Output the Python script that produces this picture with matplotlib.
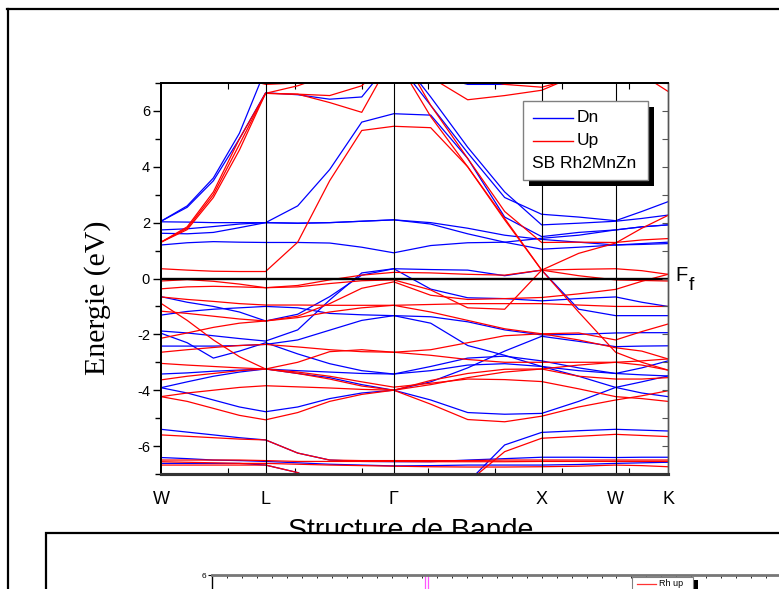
import matplotlib
matplotlib.use("Agg")
import matplotlib.pyplot as plt
from matplotlib.patches import Rectangle
from matplotlib.lines import Line2D
from matplotlib.ticker import MultipleLocator

plt.rcParams['font.family'] = ['Liberation Sans', 'DejaVu Sans']
plt.rcParams['axes.unicode_minus'] = False

# ---------------- data ----------------
k_path = [0.0, 0.177, 0.354, 0.530, 0.707, 0.924, 1.140, 1.357, 1.573,
          1.823, 2.073, 2.323, 2.573, 2.823, 3.073, 3.250, 3.427]
hs_points = [0.0, 0.707, 1.573, 2.573, 3.073, 3.427]
hs_labels = ['W', 'L', 'Γ', 'X', 'W', 'K']

# spin down (blue)
dn_0 = [8.5, 8.3, 8.0, 7.4, 7.0, 7.2, 7.6, 8.2, 8.8, 7.3, 6.95, 6.95, 7.1, 7.4, 7.8, 8.0, 8.2]
dn_1 = [2.05, 2.55, 3.5, 5.0, 6.65, 6.58, 6.42, 6.5, 7.9, 6.2, 4.5, 2.9, 2.3, 2.2, 2.07, 2.4, 2.75]
dn_2 = [2.05, 2.6, 3.6, 5.2, 7.5, 7.8, 8.0, 8.0, 8.2, 6.5, 4.7, 3.1, 1.92, 1.98, 2.05, 2.15, 2.27]
dn_3 = [2.03, 2.02, 2.0, 2.0, 2.0, 2.6, 3.9, 5.6, 5.9, 5.85, 4.3, 2.2, 1.5, 1.65, 1.74, 1.85, 1.92]
dn_4 = [1.74, 1.78, 1.86, 1.95, 2.0, 1.98, 2.0, 2.05, 2.1, 2.0, 1.8, 1.55, 1.4, 1.3, 1.2, 1.22, 1.25]
dn_5 = [1.62, 1.6, 1.65, 1.82, 2.0, 1.98, 2.0, 2.05, 2.1, 1.95, 1.6, 1.3, 1.05, 1.12, 1.2, 1.25, 1.3]
dn_6 = [1.2, 1.28, 1.32, 1.3, 1.29, 1.29, 1.27, 1.12, 0.92, 1.18, 1.28, 1.3, 1.44, 1.55, 1.74, 1.85, 1.92]
dn_7 = [-0.65, -0.85, -1.0, -1.2, -1.52, -1.28, -0.65, 0.12, 0.35, 0.32, 0.3, 0.1, 0.3, -1.1, -1.33, -1.33, -1.33]
dn_8 = [-1.88, -1.95, -2.05, -2.15, -2.24, -1.84, -0.77, 0.2, 0.35, -0.38, -0.69, -0.72, -0.8, -0.72, -0.66, -0.85, -1.0]
dn_9 = [-1.31, -1.18, -1.1, -1.05, -1.0, -1.05, -1.25, -1.3, -1.33, -1.37, -1.55, -1.84, -2.02, -2.0, -1.95, -1.94, -1.94]
dn_10 = [-1.96, -2.3, -2.85, -2.6, -2.3, -2.7, -3.05, -3.3, -3.42, -3.15, -2.85, -2.78, -2.95, -3.2, -3.4, -3.2, -2.95]
dn_11 = [-2.42, -2.42, -2.42, -2.4, -2.36, -2.2, -1.85, -1.5, -1.33, -1.6, -2.4, -2.75, -3.15, -3.5, -3.9, -4.1, -4.23]
dn_12 = [-3.42, -3.38, -3.32, -3.28, -3.24, -3.4, -3.55, -3.8, -4.0, -3.7, -3.2, -2.6, -2.07, -2.25, -2.44, -2.42, -2.41]
dn_13 = [-3.91, -4.1, -4.35, -4.6, -4.77, -4.6, -4.3, -4.1, -4.0, -4.35, -4.8, -4.86, -4.83, -4.4, -3.9, -3.7, -3.49]
dn_14 = [-3.91, -3.7, -3.5, -3.35, -3.24, -3.3, -3.35, -3.4, -3.42, -3.3, -3.1, -3.05, -3.15, -3.3, -3.4, -3.45, -3.49]
dn_15 = [-5.4, -5.5, -5.6, -5.7, -5.78, -6.25, -6.5, -6.55, -6.56, -6.56, -6.5, -6.45, -6.4, -6.4, -6.41, -6.4, -6.4]
dn_16 = [-6.62, -6.62, -6.62, -6.62, -6.68, -6.95, -7.5, -7.8, -7.9, -7.8, -7.3, -5.96, -5.51, -5.45, -5.4, -5.43, -5.46]
dn_17 = [-6.41, -6.45, -6.5, -6.52, -6.55, -6.6, -6.65, -6.68, -6.71, -6.7, -6.68, -6.68, -6.68, -6.66, -6.62, -6.6, -6.58]

# spin up (red)
up_0 = [8.5, 8.2, 7.8, 7.2, 6.95, 7.0, 7.3, 7.8, 8.5, 8.0, 7.2, 6.95, 6.85, 7.2, 7.6, 7.6, 7.6]
up_1 = [1.3, 1.75, 2.9, 4.6, 6.63, 6.6, 6.3, 5.95, 8.0, 5.8, 4.0, 2.15, 0.3, -1.2, -2.64, -3.0, -3.28]
up_2 = [1.3, 1.8, 3.0, 4.8, 6.63, 6.9, 7.3, 7.8, 8.5, 6.2, 4.3, 2.4, 1.29, 1.3, 1.29, 1.38, 1.43]
up_3 = [0.35, 0.3, 0.26, 0.25, 0.25, 1.3, 3.5, 5.3, 5.45, 5.4, 4.0, 2.1, 0.3, 0.9, 1.27, 1.8, 2.26]
up_4 = [1.3, 1.85, 3.1, 5.0, 6.63, 6.6, 6.55, 6.9, 8.0, 7.2, 6.4, 6.55, 6.74, 7.3, 7.6, 7.3, 6.7]
up_5 = [-0.09, -0.04, -0.1, -0.2, -0.33, -0.25, -0.05, 0.12, 0.22, 0.2, 0.15, 0.12, 0.3, 0.1, -0.05, -0.07, -0.09]
up_6 = [-0.37, -0.3, -0.28, -0.3, -0.33, -0.3, -0.18, -0.08, -0.05, -0.41, -1.05, -1.1, 0.3, 0.33, 0.35, 0.28, 0.15]
up_7 = [-0.66, -0.75, -0.82, -0.9, -0.95, -0.95, -0.96, -0.96, -0.96, -0.93, -0.9, -0.9, -0.9, -0.95, -1.0, -1.0, -1.0]
up_8 = [-0.89, -1.5, -2.2, -2.8, -3.24, -3.0, -2.62, -2.55, -2.64, -2.55, -2.3, -2.05, -1.98, -1.95, -2.2, -1.9, -1.63]
up_9 = [-1.17, -1.25, -1.35, -1.45, -1.52, -1.35, -0.9, -0.35, -0.12, -0.6, -0.75, -0.72, -0.68, -0.55, -0.39, -0.1, 0.15]
up_10 = [-2.14, -1.95, -1.75, -1.6, -1.52, -1.4, -1.2, -1.05, -0.96, -1.2, -1.5, -1.8, -1.98, -2.2, -2.48, -2.6, -2.88]
up_11 = [-2.64, -2.55, -2.47, -2.4, -2.36, -2.45, -2.55, -2.62, -2.64, -2.75, -2.9, -3.0, -3.0, -3.0, -3.0, -3.1, -3.28]
up_12 = [-3.04, -3.1, -3.15, -3.2, -3.24, -3.35, -3.5, -3.7, -3.89, -3.75, -3.6, -3.62, -3.69, -3.95, -4.23, -4.3, -4.4]
up_13 = [-3.63, -3.5, -3.4, -3.3, -3.24, -3.4, -3.6, -3.85, -4.0, -3.65, -3.4, -3.25, -3.24, -3.1, -3.0, -2.95, -2.88]
up_14 = [-4.23, -4.1, -4.0, -3.9, -3.84, -3.88, -3.92, -3.97, -4.0, -3.8, -3.55, -3.35, -3.24, -3.5, -3.6, -3.6, -3.55]
up_15 = [-4.23, -4.4, -4.65, -4.9, -5.06, -4.8, -4.4, -4.15, -4.0, -4.5, -5.05, -5.13, -4.93, -4.6, -4.35, -4.2, -4.02]
up_16 = [-5.6, -5.65, -5.7, -5.75, -5.78, -6.25, -6.5, -6.52, -6.52, -6.52, -6.52, -6.5, -6.5, -6.5, -6.5, -6.5, -6.5]
up_17 = [-6.5, -6.5, -6.5, -6.5, -6.52, -6.55, -6.55, -6.55, -6.55, -6.56, -6.56, -6.56, -6.55, -6.55, -6.55, -6.55, -6.55]
up_18 = [-6.68, -6.68, -6.68, -6.68, -6.68, -6.95, -7.5, -7.8, -7.9, -7.8, -7.3, -6.2, -5.72, -5.65, -5.58, -5.62, -5.66]
up_19 = [-6.56, -6.58, -6.6, -6.62, -6.62, -6.65, -6.68, -6.7, -6.72, -6.74, -6.75, -6.75, -6.74, -6.72, -6.68, -6.7, -6.74]

dn_bands = [dn_0, dn_1, dn_2, dn_3, dn_4, dn_5, dn_6, dn_7, dn_8, dn_9, dn_10,
            dn_11, dn_12, dn_13, dn_14, dn_15, dn_16, dn_17]
up_bands = [up_0, up_1, up_2, up_3, up_4, up_5, up_6, up_7, up_8, up_9, up_10,
            up_11, up_12, up_13, up_14, up_15, up_16, up_17, up_18, up_19]

legend_labels = ['Dn', 'Up']
legend_title = 'SB Rh2MnZn'
rh_up_lines = [14.2, 14.42]

# ---------------- figure ----------------
W, H = 779, 589
fig = plt.figure(figsize=(W / 100, H / 100), dpi=100)


def fx(x):
    return x / W


def fy(y):
    return 1 - y / H


ax = fig.add_axes([fx(161), fy(474), 507 / W, 391 / H])
for b in dn_bands:
    ax.plot(k_path, b, color='#0000ff', lw=0.9, solid_joinstyle='round')
for b in up_bands:
    ax.plot(k_path, b, color='#ff0000', lw=0.9, solid_joinstyle='round')

ax.set_xlim(hs_points[0], hs_points[-1])
ax.set_ylim(-7, 7)
for x in hs_points[1:-1]:
    ax.axvline(x, color='black', lw=0.8, zorder=3)
ax.axhline(0, color='black', lw=1.7, zorder=3)

ax.set_xticks(hs_points)
ax.set_xticklabels(hs_labels)
ax.tick_params(axis='x', which='major', length=0, pad=12, labelsize=13)
ax.xaxis.set_minor_locator(MultipleLocator(0.452))
ax.tick_params(axis='x', which='minor', direction='in', length=4, width=0.8,
               top=True, bottom=True)
ax.set_yticks(range(-6, 7, 2))
ax.yaxis.set_minor_locator(MultipleLocator(1))
ax.tick_params(axis='y', which='major', direction='out', length=6, width=1,
               pad=2, labelsize=10.5)
ax.tick_params(axis='y', which='minor', direction='out', length=4, width=1)

axr = ax.twinx()
axr.set_ylim(-7, 7)
axr.set_yticks(range(-6, 7, 2))
axr.yaxis.set_minor_locator(MultipleLocator(1))
axr.tick_params(axis='y', which='both', direction='in', labelright=False,
                length=4, width=0.8, color='#555555')

for a in (ax, axr):
    a.spines['bottom'].set_linewidth(2.2)
    a.spines['bottom'].set_color('#333333')
    a.spines['top'].set_linewidth(1.4)
    a.spines['left'].set_linewidth(1.4)
    a.spines['right'].set_linewidth(1.0)
    a.spines['right'].set_color('#555555')

# axis texts
fig.text(fx(98), fy(298), 'Energie (eV)', rotation=90, family='Liberation Serif',
         fontsize=21.5, ha='center', va='center')
fig.text(fx(675), fy(281), 'F', fontsize=14.5, va='baseline', ha='left')
fig.text(fx(688.5), fy(290), 'f', fontsize=14, va='baseline', ha='left')
fig.text(fx(410.5), fy(537.5), 'Structure de Bande', fontsize=20.5,
         ha='center', va='baseline', zorder=3)

# legend
fig.add_artist(Rectangle((fx(529), fy(186)), (654 - 529) / W, (186 - 107) / H,
                         transform=fig.transFigure, facecolor='black',
                         edgecolor='none', zorder=6))
fig.add_artist(Rectangle((fx(523), fy(180)), (648 - 523) / W, (180 - 101) / H,
                         transform=fig.transFigure, facecolor='white',
                         edgecolor='#808080', lw=1.0, zorder=7))
for lab, col, yy in zip(legend_labels, ['#0000ff', '#ff0000'], [118, 140.5]):
    fig.add_artist(Line2D([fx(533), fx(573)], [fy(yy), fy(yy)], color=col,
                          lw=1.0, transform=fig.transFigure, zorder=8))
    fig.text(fx(577), fy(yy), lab, fontsize=12.5, va='center', ha='left',
             zorder=9)
fig.text(fx(532), fy(163), legend_title, fontsize=12.5, va='center',
         ha='left', zorder=9)

# outer frame
fig.add_artist(Line2D([fx(7), 1.0], [fy(8.5), fy(8.5)], color='black', lw=1.6,
                      transform=fig.transFigure, zorder=2))
fig.add_artist(Line2D([fx(7.5), fx(7.5)], [fy(8.5), 0.0], color='black', lw=1.6,
                      transform=fig.transFigure, zorder=2))

# lower panel box
fig.add_artist(Rectangle((fx(46), -0.1), 1.0, (H - 533) / H + 0.1,
                         transform=fig.transFigure, facecolor='white',
                         edgecolor='black', lw=1.6, zorder=4))

ax2 = fig.add_axes([fx(212), -0.5, 1.0, 0.5 + fy(575)])
ax2.set_zorder(5)
ax2.patch.set_visible(False)
ax2.set_xlim(0, 52)
ax2.set_ylim(-30, 6)
for xv in rh_up_lines:
    ax2.axvline(xv, color='#ff55ff', lw=0.9)
ax2.set_yticks([6])
ax2.set_yticklabels(['6'])
ax2.tick_params(axis='y', labelsize=6, length=3, pad=1, direction='out')
ax2.set_xticks([])
ax2.xaxis.set_minor_locator(MultipleLocator(1))
ax2.tick_params(axis='x', which='minor', top=True, bottom=False,
                direction='in', length=2.5, width=0.6)
ax2.spines['top'].set_color('#777777')
ax2.spines['top'].set_linewidth(2)
ax2.spines['left'].set_linewidth(1)
ax2.spines['right'].set_visible(False)

# lower panel legend
fig.add_artist(Rectangle((fx(636), 0.0), (698 - 636) / W, fy(580),
                         transform=fig.transFigure, facecolor='black',
                         edgecolor='none', zorder=8))
fig.add_artist(Rectangle((fx(632), -0.02), (693 - 632) / W, fy(577) + 0.02,
                         transform=fig.transFigure, facecolor='white',
                         edgecolor='#808080', lw=0.8, zorder=9))
fig.add_artist(Line2D([fx(637), fx(656)], [fy(583.5), fy(583.5)],
                      color='#ff3333', lw=0.9, transform=fig.transFigure,
                      zorder=10))
fig.text(fx(659), fy(583.5), 'Rh up', fontsize=6.5, va='center', ha='left',
         zorder=11)

fig.savefig('out.png', dpi=100)
